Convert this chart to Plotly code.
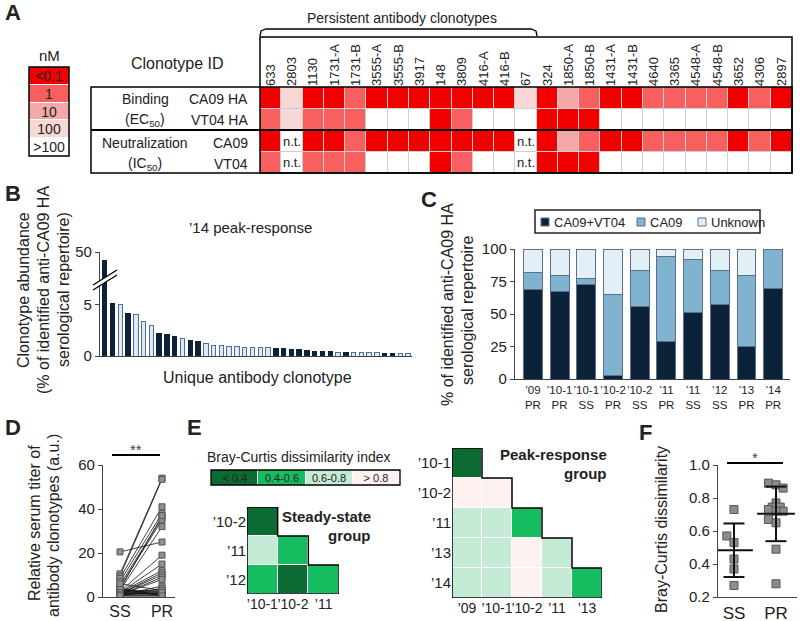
import numpy as np
import plotly.graph_objects as go

W, H = 800, 621
FONT = "Liberation Sans, Arial, sans-serif"
TXT = "#222222"

# ---------------- Panel A data ----------------
clonotypes = ["633", "2803", "1130", "1731-A", "1731-B", "3555-A", "3555-B", "3917", "148", "3809",
              "416-A", "416-B", "67", "324", "1850-A", "1850-B", "1431-A", "1431-B", "4640", "3365",
              "4548-A", "4548-B", "3652", "4306", "2897"]
# level codes: 0 = <0.1 nM, 1 = 1, 2 = 10, 3 = 100, 4 = >100, None = not tested
binding_ca09 = [0, 3, 0, 0, 1, 0, 0, 0, 0, 0, 0, 0, 3, 0, 2, 1, 0, 0, 1, 1, 1, 1, 0, 1, 0]
binding_vt04 = [1, 3, 1, 1, 1, 4, 4, 4, 0, 1, 4, 4, 4, 0, 0, 0, 4, 4, 4, 4, 4, 4, 4, 4, 4]
neut_ca09 = [0, None, 0, 0, 1, 0, 0, 0, 0, 0, 0, 0, None, 0, 2, 1, 0, 0, 1, 1, 1, 1, 0, 1, 0]
neut_vt04 = [1, None, 1, 1, 1, 4, 4, 4, 0, 1, 4, 4, None, 0, 0, 0, 4, 4, 4, 4, 4, 4, 4, 4, 4]
nm_levels = ["<0.1", "1", "10", "100", ">100"]
nm_colors = ["#f20000", "#f85f5f", "#f5a8a8", "#f8d7d7", "#ffffff"]

# ---------------- Panel B data ----------------
b_values = [46.4, 5.15, 5.0, 4.18, 4.1, 3.42, 2.96, 2.2, 2.14, 1.87, 1.68, 1.51, 1.41, 1.25, 1.05,
            1.05, 0.92, 0.9, 0.88, 0.86, 0.85, 0.85, 0.75, 0.72, 0.66, 0.65, 0.52, 0.42, 0.41, 0.4,
            0.37, 0.33, 0.33, 0.3, 0.3, 0.3, 0.27, 0.27, 0.25, 0.25]
b_types = list("ddldllldddlddlllllllllddddddddldllllddll")

# ---------------- Panel C data ----------------
c_labels = ["’09<br>PR", "’10-1<br>PR", "’10-1<br>SS", "’10-2<br>PR", "’10-2<br>SS",
            "’11<br>PR", "’11<br>SS", "’12<br>SS", "’13<br>PR", "’14<br>PR"]
c_series = ["CA09+VT04", "CA09", "Unknown"]
c_both = [68.8, 67.4, 72.5, 3.0, 55.5, 28.8, 51.2, 57.6, 25.0, 69.4]
c_ca09 = [13.3, 12.0, 5.1, 62.0, 27.8, 65.5, 41.1, 25.9, 54.4, 30.6]
c_unknown = [17.9, 20.6, 22.4, 35.0, 16.7, 5.7, 7.7, 16.5, 20.6, 0.0]

# ---------------- Panel D data ----------------
d_ss = [20.5, 10.5, 9.5, 8.5, 7.0, 5.5, 4.5, 3.5, 3.0, 2.5, 2.0, 2.0, 1.5, 1.5, 1.0, 1.0, 0.8, 0.5,
        3.0, 2.0, 1.0, 4.0, 2.5, 1.5, 0.5, 6.0, 3.5, 2.0, 1.0, 0.5]
d_pr = [25.0, 54.0, 53.5, 41.0, 38.0, 36.0, 35.0, 37.0, 32.0, 19.0, 15.0, 12.0, 11.0, 10.0, 9.0,
        8.0, 5.0, 4.0, 3.0, 2.0, 1.0, 0.5, 2.5, 1.5, 0.5, 3.0, 1.0, 1.0, 2.0, 0.5]

# ---------------- Panel E data ----------------
bc_levels = ["< 0.4", "0.4-0.6", "0.6-0.8", "> 0.8"]
bc_colors = ["#0b6b33", "#16bc60", "#c5ead5", "#fdf2f0"]
ss_rows = ["’10-2", "’11", "’12"]
ss_cols = ["’10-1", "’10-2", "’11"]
ss_z = [[0, None, None], [2, 1, None], [1, 0, 1]]
pr_rows = ["’10-1", "’10-2", "’11", "’13", "’14"]
pr_cols = ["’09", "’10-1", "’10-2", "’11", "’13"]
pr_z = [[0, None, None, None, None], [3, 3, None, None, None], [2, 2, 1, None, None],
        [2, 2, 3, 2, None], [2, 2, 3, 2, 1]]

# ---------------- Panel F data ----------------
f_ss = [0.73, 0.57, 0.53, 0.43, 0.37, 0.27]
f_ss_jit = [0.0, -0.17, 0.0, 0.0, 0.0, 0.0]
f_pr = [0.89, 0.88, 0.86, 0.77, 0.745, 0.745, 0.73, 0.72, 0.72, 0.67, 0.65, 0.49, 0.28]
f_pr_jit = [-0.18, 0.0, 0.17, 0.0, -0.09, 0.1, -0.18, 0.17, 0.0, -0.18, 0.0, 0.0, 0.0]


# ---------------- helpers ----------------
def X(p):
    return p / W


def Y(p):
    return 1 - p / H


def dx(a, b):
    return [X(a), X(b)]


def dy(top, bottom):
    return [Y(bottom), Y(top)]


annotations = []
shapes = []


def ann(text, x, y, size=14, bold=False, xanchor="center", yanchor="middle", angle=0, color=TXT):
    if bold:
        text = "<b>" + text + "</b>"
    annotations.append(dict(text=text, x=X(x), y=Y(y), xref="paper", yref="paper", showarrow=False,
                            xanchor=xanchor, yanchor=yanchor, textangle=angle,
                            font=dict(size=size, color=color, family=FONT)))


def line(x0, y0, x1, y1, w=1.5, color="black"):
    shapes.append(dict(type="line", xref="paper", yref="paper", x0=X(x0), y0=Y(y0), x1=X(x1), y1=Y(y1),
                       line=dict(color=color, width=w)))


def rect(x0, y0, x1, y1, w=1.5, color="black", fill=None, layer="above"):
    shapes.append(dict(type="rect", xref="paper", yref="paper", x0=X(x0), y0=Y(y0), x1=X(x1), y1=Y(y1),
                       line=dict(color=color, width=w), fillcolor=fill or "rgba(0,0,0,0)", layer=layer))


def path(pts, w=1.5, color="black", fill=None, close=False):
    s = "M " + " L ".join(f"{X(a)},{Y(b)}" for a, b in pts)
    if close:
        s += " Z"
    shapes.append(dict(type="path", xref="paper", yref="paper", path=s,
                       line=dict(color=color, width=w), fillcolor=fill or "rgba(0,0,0,0)"))


def discrete_scale(colors):
    n = len(colors) - 1
    return [[i / n, c] for i, c in enumerate(colors)]


fig = go.Figure()
axis_style = dict(showline=True, linecolor="#444", linewidth=1.2, ticks="outside", ticklen=4,
                  tickcolor="#444", showgrid=False, zeroline=False, automargin=False,
                  tickfont=dict(size=15, color=TXT, family=FONT))

# ================= Panel A =================
rowsA = [binding_ca09, binding_vt04, neut_ca09, neut_vt04]
zA = [[4 if v is None else v for v in r] for r in rowsA]
tA = [["n.t." if v is None else " " for v in r] for r in rowsA]
fig.add_trace(go.Heatmap(z=zA, x=list(range(len(clonotypes))), y=list(range(4)), text=tA,
                         texttemplate="%{text}", textfont=dict(size=13, color=TXT, family=FONT),
                         colorscale=discrete_scale(nm_colors), zmin=0, zmax=4, showscale=False,
                         xgap=1, ygap=1, xaxis="x", yaxis="y", hoverinfo="skip"))
rect(260, 87, 792, 173, w=0, fill="#cfcfcf", layer="below")
fig.update_layout(
    xaxis=dict(domain=dx(260, 792), range=[-0.5, len(clonotypes) - 0.5], side="top", anchor="y",
               tickmode="array", tickvals=list(range(len(clonotypes))), ticktext=clonotypes,
               tickangle=-90, ticks="", showgrid=False, zeroline=False, showline=False, automargin=False,
               tickfont=dict(size=13, color=TXT, family=FONT)),
    yaxis=dict(domain=dy(87, 173), range=[3.5, -0.5], showticklabels=False, ticks="",
               showgrid=False, zeroline=False, anchor="x", automargin=False),
)
# nM legend
fig.add_trace(go.Heatmap(z=[[i] for i in range(len(nm_levels))], x=[0], y=list(range(len(nm_levels))),
                         text=[[s] for s in nm_levels], texttemplate="%{text}",
                         textfont=dict(size=14, color=TXT, family=FONT),
                         colorscale=discrete_scale(nm_colors), zmin=0, zmax=4, showscale=False,
                         ygap=1, xaxis="x2", yaxis="y2", hoverinfo="skip"))
fig.update_layout(
    xaxis2=dict(domain=dx(29, 69), range=[-0.5, 0.5], visible=False, anchor="y2"),
    yaxis2=dict(domain=dy(67, 156), range=[len(nm_levels) - 0.5, -0.5], visible=False, anchor="x2"),
)
rect(29, 67, 69, 156, w=1.5)
ann("nM", 49, 56, size=15)
ann("A", 3, 13, size=22, bold=True, xanchor="left")
ann("Clonotype ID", 177, 63, size=16)
ann("Persistent antibody clonotypes", 402, 18, size=14)
path([(260, 36), (261, 31), (266, 29), (531, 29), (536, 31), (537, 36)], w=1.3)
# table frame
rect(260, 37, 792, 173, w=1.5)
rect(91, 87, 792, 173, w=1.5)
line(91, 130, 792, 130, w=2)
ann("Binding", 145, 99, size=14)
ann("(EC<sub>50</sub>)", 145, 120, size=14)
ann("Neutralization", 145, 143, size=14)
ann("(IC<sub>50</sub>)", 145, 164, size=14)
ann("CA09 HA", 250, 99, size=14, xanchor="right")
ann("VT04 HA", 250, 120, size=14, xanchor="right")
ann("CA09", 250, 143, size=14, xanchor="right")
ann("VT04", 250, 164, size=14, xanchor="right")

# ================= Panel B =================
DARK = "#0c2238"
LIGHT = "#dde9f3"
b_fill = [DARK if t == "d" else LIGHT for t in b_types]
b_line = [DARK if t == "d" else "#4f6d96" for t in b_types]
bx = list(range(len(b_values)))
for ya in ["y3", "y4"]:
    fig.add_trace(go.Bar(x=bx, y=b_values, marker=dict(color=b_fill, line=dict(color=b_line, width=1)),
                         xaxis="x3", yaxis=ya, showlegend=False, hoverinfo="skip"))
fig.update_layout(
    xaxis3=dict(domain=dx(100, 412), range=[-0.6, len(b_values) - 0.5], anchor="y3", showline=True,
                linecolor="#444", linewidth=1.2, showticklabels=False, ticks="", showgrid=False,
                zeroline=False),
    yaxis3=dict(domain=dy(280, 356), range=[0, 7.45], anchor="x3", tickvals=[0, 5], **axis_style),
    yaxis4=dict(domain=dy(252, 280), range=[38.3, 50], anchor="x3", tickvals=[50], **axis_style),
    bargap=0.43,
)
# axis break
path([(93, 285), (117, 270), (117, 275), (93, 290)], w=0, fill="white", close=True)
line(93, 285, 117, 270, w=1.3)
line(93, 290, 117, 275, w=1.3)
ann("B", 3, 193, size=22, bold=True, xanchor="left")
ann("’14 peak-response", 250, 227, size=15)
ann("Clonotype abundance", 23, 290, size=16, angle=-90)
ann("(% of identified anti-CA09 HA", 43, 290, size=16, angle=-90)
ann("serological repertoire)", 63, 290, size=16, angle=-90)
ann("Unique antibody clonotype", 257, 377, size=16)

# ================= Panel C =================
MID = "#7fb3cf"
CLIGHT = "#e3eff6"
EDGE = "#5b6f8e"
c_colors = [DARK, MID, CLIGHT]
cx = list(range(len(c_labels)))
for name, vals, col in zip(c_series, [c_both, c_ca09, c_unknown], c_colors):
    fig.add_trace(go.Bar(x=cx, y=vals, name=name, marker=dict(color=col, line=dict(color=EDGE, width=1)),
                         xaxis="x4", yaxis="y5", hoverinfo="skip", width=0.71, showlegend=False))
fig.update_layout(
    xaxis4=dict(domain=dx(515, 790), range=[-0.67, len(c_labels) - 0.37], anchor="y5", tickmode="array",
                tickvals=cx, ticktext=c_labels, ticks="", showline=True, linecolor="#444",
                linewidth=1.2, showgrid=False, zeroline=False, tickangle=0, automargin=False,
                tickfont=dict(size=11.5, color=TXT, family=FONT)),
    yaxis5=dict(domain=dy(249, 379), range=[0, 100], anchor="x4", tickvals=[0, 25, 50, 75, 100],
                **axis_style),
    barmode="stack",
)
# legend box for C
rect(535, 210, 760, 233, w=1.5, color="#222")
for (sx, tx), name, col in zip([(541, 552), (637, 648), (698, 709)], c_series, c_colors):
    rect(sx, 218, sx + 8, 226, w=1, color=EDGE, fill=col)
    ann(name, tx, 222, size=13, xanchor="left")
ann("C", 419, 199, size=22, bold=True, xanchor="left")
ann("% of identified anti-CA09 HA", 447, 305, size=16, angle=-90)
ann("serological repertoire", 467, 310, size=16, angle=-90)

# ================= Panel D =================
lx, ly = [], []
for a, b in zip(d_ss, d_pr):
    lx += [0, 1, None]
    ly += [a, b, None]
fig.add_trace(go.Scatter(x=lx, y=ly, mode="lines", line=dict(color="#111", width=0.8),
                         xaxis="x5", yaxis="y6", showlegend=False, hoverinfo="skip"))
fig.add_trace(go.Scatter(x=[0] * len(d_ss) + [1] * len(d_pr), y=d_ss + d_pr, mode="markers",
                         marker=dict(symbol="square", size=6, color="#8f8f8f",
                                     line=dict(color="#555", width=1)),
                         xaxis="x5", yaxis="y6", showlegend=False, hoverinfo="skip"))
fig.update_layout(
    xaxis5=dict(domain=dx(103, 175), range=[-0.405, 1.31], anchor="y6", tickmode="array",
                tickvals=[0, 1], ticktext=["SS", "PR"], showline=True, linecolor="#444",
                linewidth=1.2, ticks="", showgrid=False, zeroline=False, automargin=False,
                tickfont=dict(size=16, color=TXT, family=FONT)),
    yaxis6=dict(domain=dy(465, 597), range=[0, 60], anchor="x5", tickvals=[0, 20, 40, 60], **axis_style),
)
ann("D", 3, 428, size=22, bold=True, xanchor="left")
ann("Relative serum titer of", 34, 523, size=16, angle=-90)
ann("antibody clonotypes (a.u.)", 53, 526, size=16, angle=-90)
line(112, 455, 160, 455, w=1.8)
ann("**", 136, 449, size=15, color="#444")

# ================= Panel E =================
ann("E", 185, 428, size=22, bold=True, xanchor="left")
ann("Bray-Curtis dissimilarity index", 299, 457, size=14)
fig.add_trace(go.Heatmap(z=[list(range(len(bc_levels)))], x=list(range(len(bc_levels))), y=[0],
                         text=[bc_levels], texttemplate="%{text}",
                         textfont=dict(size=11, color=TXT, family=FONT),
                         colorscale=discrete_scale(bc_colors), zmin=0, zmax=3, showscale=False,
                         xgap=1, xaxis="x6", yaxis="y7", hoverinfo="skip"))
fig.update_layout(
    xaxis6=dict(domain=dx(211, 400), range=[-0.5, len(bc_levels) - 0.5], visible=False, anchor="y7"),
    yaxis7=dict(domain=dy(470, 485), range=[-0.5, 0.5], visible=False, anchor="x6"),
)
rect(211, 470, 400, 485, w=1.3)


def tri_heat(z, rows, cols, xa, ya, xdom, ydom):
    n = len(rows)
    fig.add_trace(go.Heatmap(z=z, x=list(range(len(cols))), y=list(range(n)),
                             colorscale=discrete_scale(bc_colors), zmin=0, zmax=3, showscale=False,
                             xgap=1, ygap=1, xaxis=xa, yaxis=ya, hoverinfo="skip"))
    ax = dict(domain=xdom, range=[-0.5, len(cols) - 0.5], anchor=ya, tickmode="array",
              tickvals=list(range(len(cols))), ticktext=cols, ticks="", showline=False,
              showgrid=False, zeroline=False, tickangle=0, automargin=False,
              tickfont=dict(size=14, color=TXT, family=FONT))
    ay = dict(domain=ydom, range=[n - 0.5, -0.5], anchor=xa, tickmode="array",
              tickvals=list(range(n)), ticktext=rows, ticks="", showline=False, showgrid=False,
              zeroline=False, automargin=False, tickfont=dict(size=15, color=TXT, family=FONT))
    # staircase outline in axis coordinates
    pts = [(-0.5, -0.5)]
    for i in range(n - 1):
        pts += [(i + 0.5, i - 0.5), (i + 0.5, i + 0.5)]
    pts += [(n - 0.5, n - 1.5), (n - 0.5, n - 0.5), (-0.5, n - 0.5)]
    s = "M " + " L ".join(f"{a},{b}" for a, b in pts) + " Z"
    shapes.append(dict(type="path", xref=xa, yref=ya, path=s, line=dict(color="black", width=1.5)))
    return ax, ay


ax7, ay8 = tri_heat(ss_z, ss_rows, ss_cols, "x7", "y8", dx(247, 339), dy(507, 594))
ax8, ay9 = tri_heat(pr_z, pr_rows, pr_cols, "x8", "y9", dx(452, 602), dy(448, 598))
fig.update_layout(xaxis7=ax7, yaxis8=ay8, xaxis8=ax8, yaxis9=ay9)
ann("Steady-state", 373, 516, size=15, bold=True, xanchor="right")
ann("group", 373, 535, size=15, bold=True, xanchor="right")
ann("Peak-response", 609, 454, size=15, bold=True, xanchor="right")
ann("group", 609, 473, size=15, bold=True, xanchor="right")

# ================= Panel F =================
fig.add_trace(go.Scatter(x=[1 + j for j in f_ss_jit] + [2 + j for j in f_pr_jit], y=f_ss + f_pr,
                         mode="markers",
                         marker=dict(symbol="square", size=8, color="#8c8c8c", line=dict(color="#555", width=1)),
                         xaxis="x9", yaxis="y10", showlegend=False, hoverinfo="skip"))
for pos, vals in [(1, f_ss), (2, f_pr)]:
    m = float(np.mean(vals))
    sd = float(np.std(vals, ddof=1))
    for (x0, x1, yv) in [(pos - 0.45, pos + 0.45, m), (pos - 0.25, pos + 0.25, m - sd),
                         (pos - 0.25, pos + 0.25, m + sd)]:
        shapes.append(dict(type="line", xref="x9", yref="y10", x0=x0, x1=x1, y0=yv, y1=yv,
                           line=dict(color="#111", width=2)))
    shapes.append(dict(type="line", xref="x9", yref="y10", x0=pos, x1=pos, y0=m - sd, y1=m + sd,
                       line=dict(color="#111", width=2)))
fig.update_layout(
    xaxis9=dict(domain=dx(718, 797), range=[0.62, 2.5], anchor="y10", tickmode="array",
                tickvals=[1, 2], ticktext=["SS", "PR"], showline=True, linecolor="#444", linewidth=1.2,
                ticks="", showgrid=False, zeroline=False, automargin=False,
                tickfont=dict(size=17, color=TXT, family=FONT)),
    yaxis10=dict(domain=dy(465, 597), range=[0.2, 1.0], anchor="x9", tickvals=[0.2, 0.4, 0.6, 0.8, 1.0],
                 tickformat=".1f", **axis_style),
)
ann("F", 637, 432, size=22, bold=True, xanchor="left")
ann("Bray-Curtis dissimilarity", 661, 530, size=16, angle=-90)
line(727, 463, 783, 463, w=1.8)
ann("*", 755, 458, size=15, color="#444")

fig.update_layout(width=W, height=H, margin=dict(l=0, r=0, t=0, b=0, autoexpand=False),
                  paper_bgcolor="white", plot_bgcolor="white", font=dict(family=FONT, color=TXT),
                  showlegend=False, annotations=annotations, shapes=shapes)
fig.write_html("out.html", config={"displayModeBar": False},
               post_script="document.body.style.margin='0px';document.body.style.overflow='hidden';")
